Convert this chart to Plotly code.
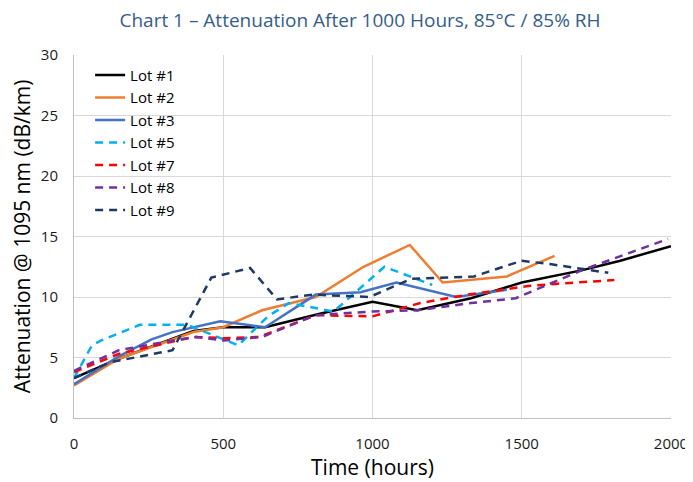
import plotly.graph_objects as go

lot1_x = [0, 150, 400, 500, 640, 820, 1000, 1150, 1330, 1500, 1700, 1830, 2000]
lot1_y = [3.3, 4.9, 7.2, 7.5, 7.5, 8.6, 9.6, 8.9, 9.9, 11.2, 12.2, 13.0, 14.2]

lot2_x = [0, 150, 400, 500, 630, 810, 970, 1125, 1235, 1450, 1610]
lot2_y = [2.7, 4.9, 7.1, 7.5, 8.9, 10.0, 12.5, 14.3, 11.2, 11.7, 13.4]

lot3_x = [0, 150, 260, 330, 490, 640, 810, 960, 1080, 1280, 1450]
lot3_y = [2.8, 5.1, 6.5, 7.1, 8.0, 7.5, 10.2, 10.4, 11.2, 10.0, 10.6]

lot5_x = [0, 60, 90, 220, 380, 500, 550, 650, 720, 870, 1040, 1200]
lot5_y = [3.3, 6.0, 6.4, 7.7, 7.7, 6.5, 6.0, 8.4, 9.5, 8.8, 12.5, 11.0]

lot7_x = [0, 150, 400, 500, 620, 810, 1000, 1100, 1160, 1320, 1520, 1620, 1810]
lot7_y = [3.8, 5.3, 6.7, 6.6, 6.7, 8.5, 8.4, 9.1, 9.5, 10.2, 10.9, 11.1, 11.4]

lot8_x = [0, 150, 330, 410, 500, 630, 810, 1000, 1150, 1330, 1480, 1700, 1990]
lot8_y = [3.9, 5.6, 6.4, 6.7, 6.4, 6.7, 8.5, 8.8, 8.9, 9.5, 9.9, 12.2, 14.8]

lot9_x = [0, 120, 330, 460, 590, 680, 800, 990, 1130, 1340, 1500, 1600, 1790]
lot9_y = [3.3, 4.6, 5.6, 11.6, 12.4, 9.8, 10.2, 10.0, 11.5, 11.7, 13.0, 12.7, 12.0]

x_ticks = [0, 500, 1000, 1500, 2000]
y_ticks = [0, 5, 10, 15, 20, 25, 30]

series = [
    ("Lot #1", lot1_x, lot1_y, "#000000", "solid"),
    ("Lot #2", lot2_x, lot2_y, "#ED7D31", "solid"),
    ("Lot #3", lot3_x, lot3_y, "#4472C4", "solid"),
    ("Lot #5", lot5_x, lot5_y, "#00B0F0", "8px,6px"),
    ("Lot #7", lot7_x, lot7_y, "#FF0000", "8px,6px"),
    ("Lot #8", lot8_x, lot8_y, "#7030A0", "8px,6px"),
    ("Lot #9", lot9_x, lot9_y, "#203864", "8px,6px"),
]

fig = go.Figure()
for name, xs, ys, color, dash in series:
    fig.add_trace(go.Scatter(x=xs, y=ys, mode="lines", name=name,
                             line=dict(color=color, width=2.5, dash=dash)))

W, H = 685, 474
fig.update_layout(
    width=W, height=H,
    margin=dict(l=66, r=22, t=47, b=64),
    paper_bgcolor="white", plot_bgcolor="white",
    font=dict(family="Open Sans", color="#000000"),
    title=dict(text="Chart 1 – Attenuation After 1000 Hours, 85°C / 85% RH",
               x=352 / W, xanchor="center", y=1 - 12 / H, yanchor="middle",
               font=dict(size=19, color="#355D8C")),
    legend=dict(x=0.027, y=0.99, xanchor="left", yanchor="top",
                bgcolor="rgba(0,0,0,0)", font=dict(size=15, color="#000000"),
                tracegroupgap=0),
    showlegend=True,
)
fig.update_xaxes(range=[0, 2000], tickvals=x_ticks, showgrid=True, gridcolor="#D9D9D9",
                 showline=True, linecolor="#BFBFBF", zeroline=False, automargin=False,
                 tickfont=dict(size=15, color="#1A1A1A"),
                 title=dict(text="Time (hours)", font=dict(size=21, color="#000000"), standoff=4),
                 ticks="outside", ticklen=12, tickcolor="rgba(0,0,0,0)")
fig.update_yaxes(range=[0, 30], tickvals=y_ticks, showgrid=True, gridcolor="#D9D9D9",
                 showline=True, linecolor="#BFBFBF", zeroline=False, automargin=False,
                 tickfont=dict(size=15, color="#1A1A1A"),
                 title=dict(text="Attenuation @ 1095 nm (dB/km)", font=dict(size=21, color="#000000"), standoff=4),
                 ticks="outside", ticklen=12, tickcolor="rgba(0,0,0,0)")

fig.write_html("out.html")
